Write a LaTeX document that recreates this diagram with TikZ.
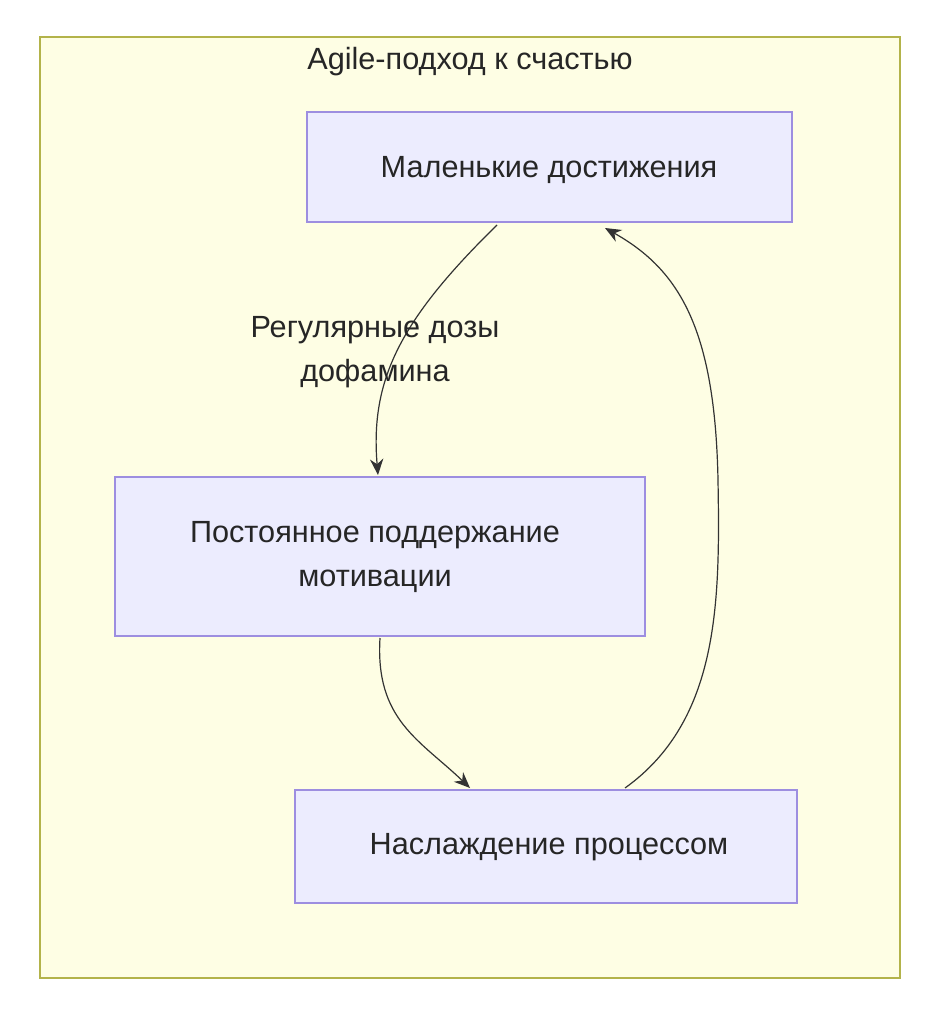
\documentclass[tikz,border=0pt]{standalone}
\usepackage{fontspec}
\setmainfont{Liberation Sans}
\usetikzlibrary{arrows.meta}
\definecolor{outerfill}{HTML}{FEFEE4}
\definecolor{outerdraw}{HTML}{B3B34A}
\definecolor{boxfill}{HTML}{ECECFE}
\definecolor{boxdraw}{HTML}{9D8EE0}
\tikzset{
  box/.style={draw=boxdraw,fill=boxfill,line width=1.2pt,rectangle},
  lbl/.style={font=\fontsize{23}{33}\selectfont,align=center,text=black!85},
  edge/.style={draw=black!80,line width=0.9pt,-{Stealth[length=12pt,width=10pt]}}
}
\begin{document}
\begin{tikzpicture}[x=0.75pt,y=-0.75pt]
\useasboundingbox (0,0) rectangle (946,1024);
\fill[white] (0,0) rectangle (946,1024);
\draw[draw=outerdraw,fill=outerfill,line width=1pt] (40,37) rectangle (900,978);
\node[lbl] (title) at (470,62) {Agile-подход к счастью};
\draw[box] (307,112) rectangle (792,222);
\node[lbl] (a) at (549,170) {Маленькие достижения};
\coordinate (abot) at (497,225);
\coordinate (ain) at (605,228);
\draw[box] (115,477) rectangle (645,636);
\node[lbl] (b) at (375,557) {Постоянное поддержание\\мотивации};
\coordinate (btop) at (378,475);
\coordinate (bbot) at (380,638);
\draw[box] (295,790) rectangle (797,903);
\node[lbl] (c) at (549,847) {Наслаждение процессом};
\coordinate (ctop) at (470,788);
\coordinate (cout) at (625,788);
\path[edge] (abot) .. controls (400,320) and (370,380) .. (btop);
\node[lbl] (l) at (375,352) {Регулярные дозы\\дофамина};
\path[edge] (bbot) .. controls (375,720) and (420,740) .. (ctop);
\path[edge] (cout) .. controls (720,720) and (720,600) .. (718,480) .. controls (715,330) and (680,270) .. (ain);
\end{tikzpicture}
\end{document}
